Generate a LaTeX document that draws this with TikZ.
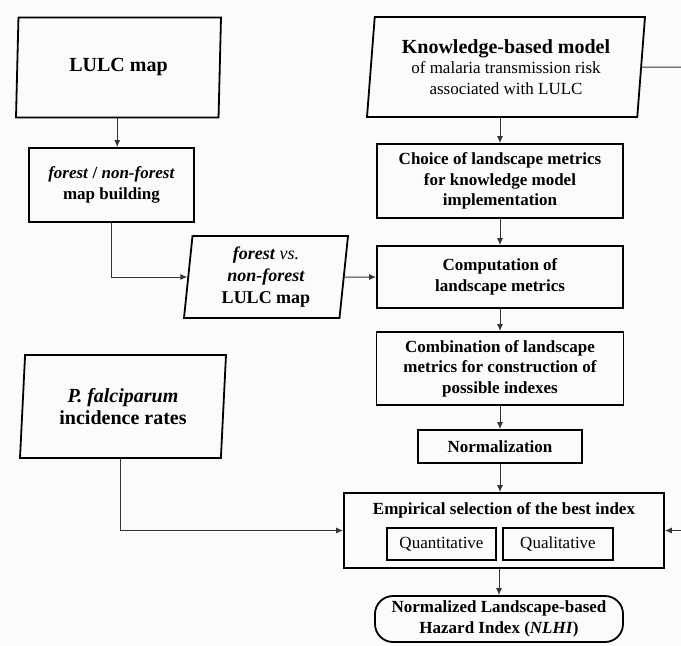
\documentclass[tikz,border=0pt]{standalone}
\usepackage{fontspec}
\setmainfont{Liberation Serif}
\usepackage{xcolor}
\usepackage{tikz}
\usetikzlibrary{positioning,calc,shapes,arrows,arrows.meta,graphs}

\newcommand{\procfont}{\fontsize{17}{20.5}\selectfont\bfseries}
\newcommand{\datafont}{\fontsize{20}{22}\selectfont\bfseries}

\tikzset{
    proc/.style={draw, line width=1.8pt, rectangle, align=center, font=\procfont, inner sep=1pt},
    data/.style={draw, line width=1.8pt, trapezium, trapezium left angle=82, trapezium right angle=98,
        trapezium stretches body, align=center, inner sep=0pt, font=\datafont},
    subbox/.style={draw, line width=1.4pt, rectangle, align=center, font=\fontsize{17}{20}\selectfont, inner sep=0pt},
    link/.style={draw=black!80, line width=1pt},
}

\begin{document}
\begin{tikzpicture}[x=1pt, y=-1pt, >={Latex[length=7pt,width=6pt]}]
        \useasboundingbox[fill=gray!3] (0,0) rectangle (681,646);

        % inputs
        \node[data, minimum width=205pt, minimum height=100pt] (lulc) at (118.5,67.5) {\raisebox{-4pt}{LULC map}};
        \node[data, minimum width=278pt, minimum height=100pt] (know) at (506,67)
            {Knowledge-based model\\[-2pt]
             {\fontsize{17}{21}\selectfont\mdseries of malaria transmission risk}\\[-1pt]
             {\fontsize{17}{21}\selectfont\mdseries associated with LULC}};
        \node[data, minimum width=206pt, minimum height=103pt] (pf) at (123,406.5)
            {\textit{P. falciparum}\\incidence rates};
        \node[data, minimum width=164pt, minimum height=82pt, font=\fontsize{18}{22}\selectfont\bfseries] (fvs) at (266,277)
            {\textit{forest} {\mdseries\itshape vs.}\\\textit{non-forest}\\LULC map};

        % processing
        \node[proc, minimum width=165pt, minimum height=74pt] (fnf) at (111.5,185)
            {\textit{forest} / \textit{non-forest}\\map building};
        \node[proc, minimum width=246pt, minimum height=74pt] (choice) at (500,181)
            {Choice of landscape metrics\\for knowledge model\\implementation};
        \node[proc, minimum width=246pt, minimum height=62pt] (comp) at (500,277)
            {Computation of\\landscape metrics};
        \node[proc, minimum width=247pt, minimum height=73pt] (comb) at (500,368.5)
            {Combination of landscape\\metrics for construction of\\possible indexes};
        \node[proc, minimum width=164pt, minimum height=33pt] (norm) at (500,446.5) {Normalization};
        \node[proc, minimum width=320pt, minimum height=75pt] (emp) at (504,530.5) {};
        \node[font=\procfont, inner sep=0pt] (empt) at (504,510) {Empirical selection of the best index};
        \node[subbox, minimum width=109pt, minimum height=32pt] (quan) at (441.5,544) {Quantitative};
        \node[subbox, minimum width=110pt, minimum height=32pt] (qual) at (558,544) {Qualitative};
        \node[proc, rounded corners=18pt, minimum width=248pt, minimum height=46pt] (nlhi) at (499,619)
            {Normalized Landscape-based\\Hazard Index (\textit{NLHI})};

        % loose ends at the border
        \coordinate (kout) at (681,67);
        \coordinate (eout) at (681,530.5);
        \coordinate (lulc-b) at ($(lulc.bottom left corner)!.5!(lulc.bottom right corner)$);
        \coordinate (pf-b) at ($(pf.bottom left corner)!.5!(pf.bottom right corner)$);
        \coordinate (know-b) at ($(know.bottom left corner)!.5!(know.bottom right corner)$);

        \graph [use existing nodes, edges={link}] {
            choice -> comp -> comb -> norm,
        };
        \draw[link, ->] (lulc-b) -- (lulc-b |- fnf.north);
        \draw[link, ->] (fnf.south) |- (fvs.west);
        \draw[link, ->] (fvs.east) -- (comp.west);
        \draw[link, ->] (choice.north |- know-b) -- (choice.north);
        \draw[link, ->] (norm.south) -- (norm.south |- emp.north);
        \draw[link, ->] (pf-b) |- (emp.west);
        \draw[link, ->] (emp.south -| nlhi.north) -- (nlhi.north);
        \draw[link] (know.east) -- (kout);
        \draw[link, ->] (eout) -- (emp.east);
    \end{tikzpicture}
\end{document}
